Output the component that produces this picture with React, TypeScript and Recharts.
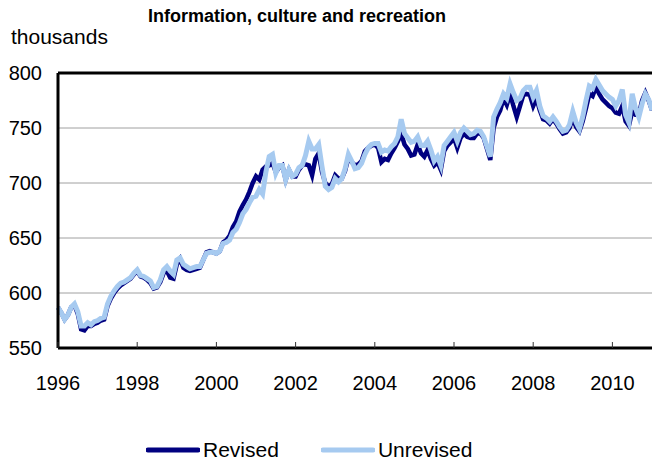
import { CartesianGrid, Legend, Line, LineChart, ReferenceLine, XAxis, YAxis } from "recharts";

// Monthly employment, thousands, Jan 1996 - Jan 2011
const revised = [
	587, 582, 576, 580, 587, 589, 581, 567, 566, 570, 570, 572,
	573, 575, 576, 588, 595, 600, 604, 607, 609, 611, 613, 617,
	620, 615, 614, 612, 609, 604, 605, 610, 618, 620, 614, 613,
	626, 631, 623, 621, 620, 621, 622, 623, 630, 637, 638, 637,
	636, 638, 646, 648, 652, 660, 665, 674, 680, 685, 692, 700,
	706, 703, 712, 715, 716, 718, 710, 714, 716, 703, 712, 706,
	706, 712, 716, 717, 716, 707, 722, 727, 710, 700, 697, 699,
	707, 704, 704, 711, 723, 719, 716, 717, 720, 729, 732, 734,
	735, 732, 719, 722, 721, 727, 732, 738, 745, 735, 731, 725,
	726, 735, 727, 724, 730, 722, 716, 719, 712, 729, 734, 737,
	741, 732, 741, 745, 742, 741, 741, 745, 745, 741, 731, 721,
	750, 760, 766, 777, 771, 781, 770, 760, 770, 780, 781, 780,
	770, 777, 766, 758, 757, 754, 758, 754, 749, 745, 746, 750,
	759, 751, 747, 756, 768, 781, 779, 787, 781, 776, 773, 770,
	768, 764, 763, 770, 756, 752, 765, 762, 762, 775, 782, 775,
	766,
];

const unrevised = [
	587, 582, 576, 580, 587, 590, 583, 570, 570, 573, 571, 574,
	575, 577, 578, 590, 597, 602, 606, 609, 610, 612, 614, 618,
	621, 616, 615, 613, 611, 605, 606, 612, 621, 624, 620, 617,
	630, 632, 626, 624, 622, 623, 624, 624, 630, 636, 637, 637,
	636, 638, 645, 646, 648, 655, 658, 664, 672, 676, 682, 687,
	688, 694, 690, 710, 724, 726, 709, 716, 716, 703, 712, 706,
	708, 714, 716, 725, 738, 731, 731, 735, 715, 697, 694, 696,
	704, 701, 704, 713, 726, 720, 713, 714, 718, 726, 732, 735,
	736, 736, 728, 730, 729, 733, 736, 742, 758, 745, 741, 737,
	738, 742, 734, 734, 738, 730, 720, 724, 716, 734, 738, 742,
	746, 738, 746, 750, 747, 744, 745, 748, 747, 742, 733, 724,
	760, 767, 773, 781, 777, 790, 782, 775, 777, 784, 787, 787,
	778, 784, 770, 761, 759, 756, 760, 756, 751, 747, 748, 753,
	765, 755, 749, 760, 775, 788, 786, 794, 789, 784, 781, 778,
	776, 770, 775, 785, 762, 755, 781, 768, 760, 772, 781, 776,
	766,
];

const firstYear = 1996;
const yearTicks = [0, 24, 48, 72, 96, 120, 144, 168];
const valueTicks = [550, 600, 650, 700, 750, 800];

const data = revised.map((r, i) => ({ m: i, revised: r, unrevised: unrevised[i] }));

const font = "Arial, 'Liberation Sans', sans-serif";

function YearTick(props: any) {
	const { x, y, payload } = props;
	return (
		<g>
			<line x1={x} x2={x} y1={y} y2={y - 6} stroke="#333" strokeWidth={1} />
			<text x={x} y={y + 42} textAnchor="middle" fontSize={20} fontFamily={font} fill="#000">
				{firstYear + payload.value / 12}
			</text>
		</g>
	);
}

const legendItems = [
	{ label: "Revised", color: "#000080" },
	{ label: "Unrevised", color: "#a6caf0" },
];

function ChartLegend() {
	return (
		<div style={{ display: "flex", gap: 42, fontFamily: font, fontSize: 21, paddingLeft: 146 }}>
			{legendItems.map((it) => (
				<div key={it.label} style={{ display: "flex", alignItems: "center" }}>
					<svg width={54} height={10}>
						<line x1={2} x2={52} y1={5} y2={5} stroke={it.color} strokeWidth={5} strokeLinecap="round" />
					</svg>
					<span style={{ marginLeft: 3 }}>{it.label}</span>
				</div>
			))}
		</div>
	);
}

export default function App() {
	return (
		<div style={{ position: "absolute", left: 0, top: 0, width: 652, height: 468, background: "#fff" }}>
			<div
				style={{
					position: "absolute",
					left: 0,
					width: 594,
					top: 6,
					textAlign: "center",
					fontFamily: "'Liberation Sans Narrow', 'Arial Narrow', Arial, sans-serif",
					fontWeight: "bold",
					fontSize: 18,
				}}
			>
				Information, culture and recreation
			</div>
			<div style={{ position: "absolute", left: 11, top: 25, fontFamily: font, fontSize: 21 }}>thousands</div>
			<LineChart width={652} height={468} data={data} margin={{ top: 73, right: 0, bottom: 0, left: 0 }}>
				<CartesianGrid horizontal vertical={false} stroke="#a0a0a0" strokeDasharray="" />
				<ReferenceLine y={800} stroke="#000" strokeWidth={3} />
				<XAxis
					dataKey="m"
					type="number"
					domain={[0, 180]}
					ticks={yearTicks}
					tick={<YearTick />}
					tickLine={false}
					tickSize={0}
					tickMargin={0}
					height={120}
					axisLine={{ stroke: "#000", strokeWidth: 3 }}
					interval={0}
				/>
				<YAxis
					domain={[550, 800]}
					ticks={valueTicks}
					width={58}
					tickLine={false}
					tickSize={0}
					tickMargin={16}
					axisLine={{ stroke: "#000", strokeWidth: 3 }}
					tick={{ fill: "#000", fontSize: 20, fontFamily: font }}
					interval={0}
				/>
				<Legend
					verticalAlign="middle"
					align="center"
					content={<ChartLegend />}
					wrapperStyle={{ top: 438, left: 0, width: 652 }}
				/>
				<Line
					dataKey="revised"
					name="Revised"
					stroke="#000080"
					strokeWidth={4.5}
					dot={false}
					isAnimationActive={false}
				/>
				<Line
					dataKey="unrevised"
					name="Unrevised"
					stroke="#a6caf0"
					strokeWidth={5}
					dot={false}
					isAnimationActive={false}
				/>
			</LineChart>
		</div>
	);
}
